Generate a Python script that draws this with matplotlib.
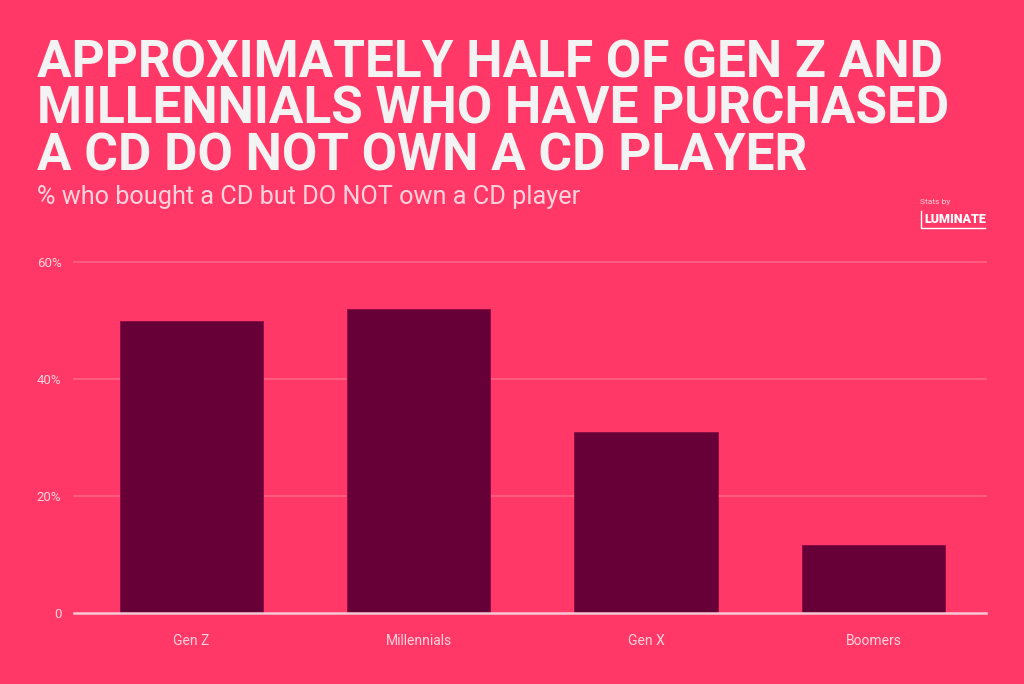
import matplotlib.pyplot as plt
from matplotlib.lines import Line2D

# data
generations = ["Gen Z", "Millennials", "Gen X", "Boomers"]
pct_no_player = [50, 52, 31, 11.7]
y_ticks = [0, 20, 40, 60]
y_tick_labels = ["0", "20%", "40%", "60%"]

BG = "#FF3867"
BAR = "#660036"
TXT = "#F3F3F3"
SOFT = "#FFD3DD"
GRID = "#FF5F86"

plt.rcParams['font.family'] = ['Roboto', 'DejaVu Sans']

fig = plt.figure(figsize=(10.24, 6.84), dpi=100, facecolor=BG)
ax = fig.add_axes([74 / 1024, 1 - 613 / 684, 912 / 1024, 351 / 684])
ax.set_facecolor(BG)

ax.bar(range(len(generations)), pct_no_player, width=0.63, color=BAR,
       edgecolor="#8A0A45", linewidth=0.6, zorder=3)

ax.set_xlim(-0.516, 3.495)
ax.set_ylim(0, 60)
ax.set_yticks(y_ticks)
ax.set_yticklabels(y_tick_labels)
ax.set_xticks(range(len(generations)))
ax.set_xticklabels(generations)

for y in y_ticks[1:]:
    ax.axhline(y, color=GRID, linewidth=1.3, zorder=1, clip_on=False)
ax.axhline(0, color="#F5C9D4", linewidth=1.8, zorder=4, clip_on=False)

for s in ax.spines.values():
    s.set_visible(False)
ax.tick_params(axis="both", length=0, colors=SOFT, labelsize=9.5)
ax.tick_params(axis="x", pad=15, labelsize=10)
ax.tick_params(axis="y", pad=9)

# heading
fig.text(37 / 1024, 1 - 38 / 684,
         "APPROXIMATELY HALF OF GEN Z AND\nMILLENNIALS WHO HAVE PURCHASED\nA CD DO NOT OWN A CD PLAYER",
         color=TXT, fontsize=37, fontweight="bold", va="top", ha="left",
         linespacing=0.92)
fig.text(37 / 1024, 1 - 197 / 684, "% who bought a CD but DO NOT own a CD player",
         color=SOFT, fontsize=18.2, va="center", ha="left")

# logo
fig.text(920 / 1024, 1 - 202 / 684, "Stats by", color=SOFT, fontsize=6,
         va="center", ha="left")
fig.text(924 / 1024, 1 - 219.5 / 684, "LUMINATE", color="white", fontsize=9,
         fontweight="black", va="center", ha="left")
fig.add_artist(Line2D([921 / 1024, 921 / 1024, 985 / 1024],
                      [1 - 211 / 684, 1 - 228 / 684, 1 - 228 / 684],
                      color="white", linewidth=1.0, transform=fig.transFigure))

fig.savefig("out.png", dpi=100, facecolor=BG)
